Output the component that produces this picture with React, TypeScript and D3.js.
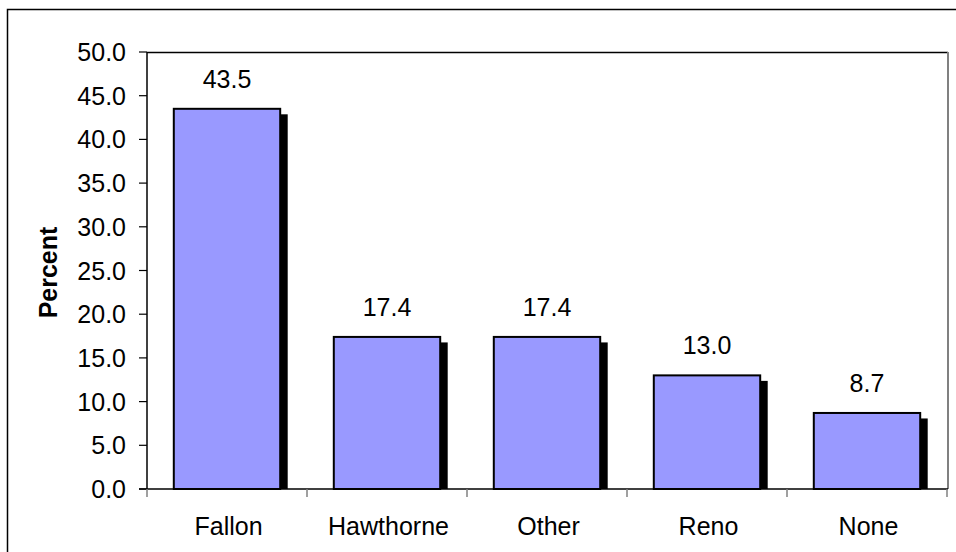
import React from "react";
import * as d3 from "d3";

const categories = ["Fallon", "Hawthorne", "Other", "Reno", "None"];
const values = [43.5, 17.4, 17.4, 13.0, 8.7];
const yTicks = [0, 5, 10, 15, 20, 25, 30, 35, 40, 45, 50];
const yLabel = "Percent";

const W = 956;
const H = 552;
const plot = { left: 147, right: 948, top: 52, bottom: 489 };
const FONT = "'Liberation Sans', Arial, sans-serif";
const FS = 25;

export default function App() {
  const x = d3
    .scaleBand<string>()
    .domain(categories)
    .range([plot.left, plot.left + 800])
    .paddingInner(0.335)
    .paddingOuter(0.1675);
  const y = d3.scaleLinear().domain([0, 50]).range([plot.bottom, plot.top]);
  const bw = x.bandwidth();
  const step = x.step();
  const dx = 7.5;
  const dy = 5.5;

  return (
    <>
      <style>{`body{margin:0}`}</style>
      <svg width={W} height={H} style={{ display: "block", background: "#fff" }}>
        {/* outer frame */}
        <rect x={7.5} y={9.5} width={W} height={H} fill="#fff" stroke="#000" strokeWidth={1.5} />
        {/* plot frame top & right */}
        <line x1={plot.left} x2={plot.right} y1={plot.top + 0.5} y2={plot.top + 0.5} stroke="#000" strokeWidth={1.5} />
        <line x1={plot.right} x2={plot.right} y1={plot.top} y2={plot.bottom} stroke="#808080" strokeWidth={2} />

        {/* bars with shadow */}
        {categories.map((c, i) => {
          const x0 = x(c)!;
          const yt = y(values[i]);
          return (
            <g key={c}>
              <rect
                x={x0 + dx}
                y={yt + dy}
                width={bw}
                height={plot.bottom - yt - dy}
                fill="#000"
              />
              <rect
                x={x0}
                y={yt}
                width={bw}
                height={plot.bottom - yt}
                fill="#9999FF"
                stroke="#000"
                strokeWidth={2}
              />
              <text
                x={x0 + bw / 2}
                y={yt - 21}
                textAnchor="middle"
                fontFamily={FONT}
                fontSize={FS}
                fill="#000"
              >
                {values[i].toFixed(1)}
              </text>
              <text
                x={x0 + bw / 2 + 1.5}
                y={535}
                textAnchor="middle"
                fontFamily={FONT}
                fontSize={FS}
                fill="#000"
              >
                {c}
              </text>
            </g>
          );
        })}

        {/* y axis */}
        <line x1={plot.left} x2={plot.left} y1={plot.top} y2={plot.bottom} stroke="#000" strokeWidth={1.5} />
        {yTicks.map((t) => (
          <g key={t}>
            <line x1={plot.left - 8} x2={plot.left} y1={y(t)} y2={y(t)} stroke="#000" strokeWidth={1.2} />
            <text
              x={126}
              y={y(t)}
              dy="0.36em"
              textAnchor="end"
              fontFamily={FONT}
              fontSize={FS}
              fill="#000"
            >
              {t.toFixed(1)}
            </text>
          </g>
        ))}

        {/* x axis */}
        <line x1={plot.left - 8} x2={plot.right} y1={plot.bottom} y2={plot.bottom} stroke="#000" strokeWidth={1.5} />
        {d3.range(categories.length + 1).map((i) => {
          const xx = plot.left + i * step;
          return (
            <line key={i} x1={xx} x2={xx} y1={plot.bottom} y2={plot.bottom + 8} stroke="#808080" strokeWidth={1.5} />
          );
        })}

        <text
          transform={`translate(57, ${(plot.top + plot.bottom) / 2 + 2}) rotate(-90)`}
          textAnchor="middle"
          fontFamily={FONT}
          fontSize={FS}
          fontWeight="bold"
          fill="#000"
        >
          {yLabel}
        </text>
      </svg>
    </>
  );
}
